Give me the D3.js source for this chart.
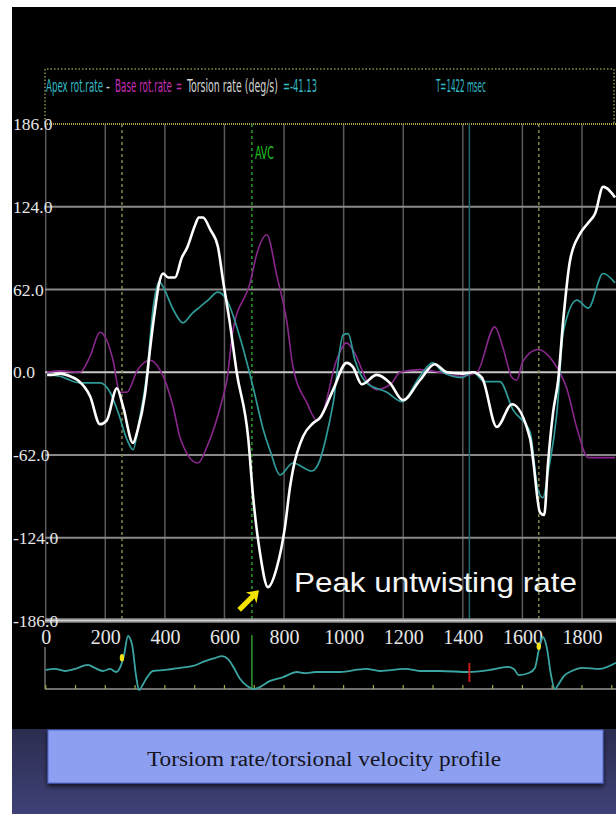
<!DOCTYPE html>
<html>
<head>
<meta charset="utf-8">
<script src="https://cdn.jsdelivr.net/npm/d3@7"></script>
<style>
  body { margin: 0; background: #fff; }
  svg { display: block; }
</style>
</head>
<body>
<div id="main"></div>
<script>
var timeTicks = [0, 200, 400, 600, 800, 1000, 1200, 1400, 1600, 1800];
var rateTicks = [186, 124, 62, 0, -62, -124, -186];
var rateTickLabels = ["186.0", "124.0", "62.0", "0.0", "-62.0", "-124.0", "-186.0"];

// [time ms, deg/s]
var torsionRate = [
  [5, -2], [20, -2], [48, -1], [82, -3], [108, -6], [149, -18], [182, -39], [205, -36],
  [239, -12], [260, -26], [293, -53], [309, -43], [333, -17], [350, 17], [367, 47],
  [381, 67], [394, 74], [411, 71], [434, 71], [457, 86], [474, 93], [501, 110],
  [514, 116], [528, 116], [552, 107], [578, 94], [595, 69], [618, 37], [641, 0],
  [680, -50], [696, -93], [719, -135], [746, -161], [776, -146], [803, -116],
  [820, -86], [830, -73], [864, -48], [898, -38], [921, -34], [965, -13], [1010, 7],
  [1031, 4], [1061, -9], [1111, -2], [1155, -8], [1199, -21], [1256, -6], [1306, 6],
  [1346, 0], [1400, -1], [1433, 0], [1464, -4], [1514, -41], [1565, -24], [1626, -50],
  [1636, -66], [1659, -105], [1673, -107], [1686, -68], [1703, -30], [1720, -6],
  [1737, 39], [1760, 84], [1794, 104], [1821, 112], [1844, 119], [1871, 139], [1911, 131]
];
var apexRate = [
  [5, -2], [48, -3], [71, -5], [115, -8], [182, -8], [216, -15], [243, -30], [272, -50],
  [293, -58], [315, -35], [340, 0], [361, 49], [381, 68], [394, 64], [428, 47],
  [461, 37], [491, 44], [518, 49], [545, 54], [578, 60], [608, 54], [652, 26],
  [696, -11], [729, -42], [755, -60], [786, -77], [830, -68], [893, -74], [920, -66],
  [942, -48], [965, -23], [998, 28], [1015, 29], [1038, 9], [1077, -8], [1145, -15],
  [1196, -22], [1256, -3], [1299, 7], [1333, 0], [1397, -4], [1433, 0], [1474, -7],
  [1524, -7], [1568, -28], [1626, -45], [1652, -88], [1669, -94], [1686, -75],
  [1716, -30], [1737, 30], [1783, 54], [1821, 48], [1871, 74], [1911, 67]
];
var baseRate = [
  [5, 0], [48, 1], [115, 0], [149, 12], [182, 30], [205, 24], [226, 9], [249, -15],
  [272, -15], [309, 2], [350, 9], [383, 2], [428, -26], [451, -49], [511, -68],
  [541, -56], [592, -21], [608, -6], [629, 32], [686, 67], [709, 89], [742, 103],
  [776, 72], [810, 37], [830, 4], [877, -23], [910, -36], [930, -30], [976, 9],
  [1010, 22], [1038, 14], [1077, -6], [1111, -13], [1162, -8], [1189, 0], [1256, 2],
  [1323, 0], [1390, -3], [1447, 0], [1507, 34], [1534, 19], [1565, -4], [1581, -6],
  [1601, 8], [1652, 17], [1703, 8], [1750, -13], [1783, -42], [1821, -64], [1911, -64]
];
// [time ms, amplitude] ECG strip
var ecg = [
  [0, 0], [31, 0.03], [65, -0.03], [98, 0.03], [142, 0.15], [165, 0.06], [192, -0.03],
  [216, 0.03], [236, -0.06], [249, 0.06], [263, 0.44], [276, 1.0], [290, 0.74],
  [303, -0.15], [313, -0.59], [327, -0.41], [343, -0.18], [360, -0.03], [400, 0],
  [451, 0.06], [495, 0.12], [535, 0.26], [568, 0.35], [592, 0.41], [612, 0.32],
  [632, 0.06], [652, -0.26], [676, -0.47], [696, -0.56], [712, -0.53], [753, -0.32],
  [797, -0.21], [843, -0.06], [870, -0.09], [907, -0.06], [988, -0.06], [1075, 0.03],
  [1122, -0.03], [1209, 0.03], [1256, -0.03], [1323, -0.03], [1420, -0.06], [1490, 0],
  [1551, 0.09], [1571, 0.03], [1588, -0.15], [1622, -0.09], [1642, 0.06], [1655, 0.59],
  [1669, 0.97], [1682, 0.65], [1696, -0.15], [1709, -0.56], [1722, -0.41],
  [1739, -0.18], [1766, -0.03], [1803, 0.06], [1857, 0.03], [1914, 0.21]
];
var ecgTicks = d3.range(0, 1901, 100);
var eventTimes = [256, 1655];
var avcTime = 692;
var cursorTime = 1422;

var W = 616, H = 814;
var svg = d3.select("#main").append("svg").attr("width", W).attr("height", H);

var x = d3.scaleLinear().domain([0, 1800]).range([45.7, 582]);
var y = d3.scaleLinear().domain([-186, 186]).range([620.5, 124]);
var yEcg = d3.scaleLinear().domain([-0.56, 1]).range([689, 636]);

var defs = svg.append("defs");
defs.append("clipPath").attr("id", "plot-clip")
  .append("rect").attr("x", 45).attr("y", 118).attr("width", 571).attr("height", 505);
var grad = defs.append("linearGradient").attr("id", "navy")
  .attr("x1", 0).attr("y1", 0).attr("x2", 0).attr("y2", 1);
grad.append("stop").attr("offset", "0%").attr("stop-color", "#2b2d50");
grad.append("stop").attr("offset", "100%").attr("stop-color", "#3f4177");
var shadow = defs.append("filter").attr("id", "shadow")
  .attr("x", "-5%").attr("y", "-20%").attr("width", "110%").attr("height", "160%");
shadow.append("feDropShadow").attr("dx", 0).attr("dy", 3).attr("stdDeviation", 2.5)
  .attr("flood-color", "#000").attr("flood-opacity", 0.7);

// backgrounds
svg.append("rect").attr("x", 12).attr("y", 7).attr("width", W - 12).attr("height", 722).attr("fill", "#000");
svg.append("rect").attr("x", 12).attr("y", 729).attr("width", W - 12).attr("height", H - 729).attr("fill", "url(#navy)");

// header box
var dotted = "#8f8f45";
svg.append("path")
  .attr("d", "M45,123 L45,69 L614,69 L614,123")
  .attr("fill", "none").attr("stroke", dotted).attr("stroke-width", 1.5)
  .attr("stroke-dasharray", "1.5,2");

var condensed = "'DejaVu Sans Condensed', 'Liberation Sans Narrow', 'Liberation Sans', sans-serif";

// squeeze a text horizontally so it spans `len` pixels
function narrowText(parent, txt, x0, y0, len, color, size) {
  var t = parent.append("text")
    .attr("font-family", condensed).attr("font-size", size)
    .attr("fill", color).text(txt);
  var natural = t.node().getComputedTextLength();
  t.attr("transform", "translate(" + x0 + "," + y0 + ") scale(" + (len / natural) + ",1)");
  return t;
}
var header = svg.append("g");
narrowText(header, "Apex rot.rate", 46, 92, 57, "#35bcc6", 18);
narrowText(header, "-", 106, 92, 4, "#cfcfcf", 18);
narrowText(header, "Base rot.rate", 115, 92, 57, "#c42fb4", 18);
narrowText(header, "=", 176, 92, 6, "#c42fb4", 18);
narrowText(header, "Torsion rate (deg/s)", 187, 92, 91, "#d6d6d6", 18);
narrowText(header, "=-41.13", 283, 92, 34, "#35bcc6", 18);
narrowText(header, "T=1422 msec", 436, 92, 50, "#35bcc6", 18);

// grid
var grid = svg.append("g");
grid.selectAll("line.v").data(timeTicks).enter().append("line")
  .attr("x1", function(d) { return x(d); }).attr("x2", function(d) { return x(d); })
  .attr("y1", y(186)).attr("y2", y(-186))
  .attr("stroke", "#5a5a5a").attr("stroke-width", 1.5);
grid.selectAll("line.h").data(rateTicks.filter(function(d) { return Math.abs(d) < 186; }))
  .enter().append("line")
  .attr("x1", 45).attr("x2", W)
  .attr("y1", function(d) { return y(d); }).attr("y2", function(d) { return y(d); })
  .attr("stroke", function(d) { return d === 0 ? "#c8c8c8" : "#8a8a8a"; })
  .attr("stroke-width", 2);

// top dotted line at 186
svg.append("line").attr("x1", 45).attr("x2", W).attr("y1", y(186)).attr("y2", y(186))
  .attr("stroke", "#a5a550").attr("stroke-width", 2).attr("stroke-dasharray", "1,1");

// event markers
eventTimes.forEach(function(t) {
  svg.append("line").attr("x1", x(t)).attr("x2", x(t)).attr("y1", y(186)).attr("y2", y(-186))
    .attr("stroke", "#86864a").attr("stroke-width", 1.5).attr("stroke-dasharray", "3,3");
});
svg.append("line").attr("x1", x(avcTime)).attr("x2", x(avcTime)).attr("y1", y(186)).attr("y2", y(-186))
  .attr("stroke", "#2f9a2f").attr("stroke-width", 1.5).attr("stroke-dasharray", "3,3");
narrowText(svg, "AVC", x(avcTime) + 3, 159, 19, "#22c322", 18);
svg.append("line").attr("x1", x(cursorTime)).attr("x2", x(cursorTime)).attr("y1", y(186)).attr("y2", y(-186))
  .attr("stroke", "#1c6a6a").attr("stroke-width", 1.5);

// bottom bar at -186
svg.append("line").attr("x1", 45).attr("x2", W).attr("y1", y(-186)).attr("y2", y(-186))
  .attr("stroke", "#8c8c8c").attr("stroke-width", 4.5);
svg.append("line").attr("x1", 45).attr("x2", W).attr("y1", y(-186)).attr("y2", y(-186))
  .attr("stroke", "#d0d0d0").attr("stroke-width", 1.5);

// curves
var line = d3.line()
  .x(function(d) { return x(d[0]); })
  .y(function(d) { return y(d[1]); })
  .curve(d3.curveMonotoneX);
var curves = svg.append("g").attr("clip-path", "url(#plot-clip)");
curves.append("path").datum(baseRate).attr("d", line)
  .attr("fill", "none").attr("stroke", "#8a278d").attr("stroke-width", 1.6);
curves.append("path").datum(apexRate).attr("d", line)
  .attr("fill", "none").attr("stroke", "#2f9b98").attr("stroke-width", 1.7);
curves.append("path").datum(torsionRate).attr("d", line)
  .attr("fill", "none").attr("stroke", "#ffffff").attr("stroke-width", 2.6)
  .attr("stroke-linejoin", "round");

// y axis labels
var yAxis = d3.axisLeft(y).tickValues(rateTicks).tickSize(0)
  .tickFormat(function(d, i) { return rateTickLabels[i]; });
svg.append("g").call(yAxis)
  .call(function(g) { g.select(".domain").remove(); })
  .attr("font-family", "'Liberation Serif', 'DejaVu Serif', serif").attr("font-size", 17.5)
  .selectAll("text")
  .attr("x", 13).attr("dy", "0.32em").attr("text-anchor", "start")
  .attr("fill", "#e6e6e6");

// x axis labels
var xAxis = d3.axisBottom(x).tickValues(timeTicks).tickSize(0).tickPadding(0)
  .tickFormat(d3.format("d"));
svg.append("g").attr("transform", "translate(0,637)").call(xAxis)
  .call(function(g) { g.select(".domain").remove(); })
  .attr("font-family", "'Liberation Serif', 'DejaVu Serif', serif").attr("font-size", 20)
  .selectAll("text")
  .attr("dy", "0.35em").attr("fill", "#e6e6e6");

// ECG strip
var ecgG = svg.append("g");
ecgG.append("line").attr("x1", 45).attr("x2", W).attr("y1", 689).attr("y2", 689)
  .attr("stroke", "#6e6e6e").attr("stroke-width", 2);
ecgG.append("line").attr("x1", 45).attr("x2", 45).attr("y1", 647).attr("y2", 689)
  .attr("stroke", "#6e6e6e").attr("stroke-width", 1.5);
ecgG.selectAll("line.tick").data(ecgTicks).enter().append("line")
  .attr("x1", function(d) { return x(d); }).attr("x2", function(d) { return x(d); })
  .attr("y1", 685).attr("y2", 689)
  .attr("stroke", "#a5a54a").attr("stroke-width", 1.2);
ecgG.append("line").attr("x1", x(avcTime)).attr("x2", x(avcTime)).attr("y1", 635).attr("y2", 689)
  .attr("stroke", "#2e9a2e").attr("stroke-width", 1.5);
var ecgLine = d3.line()
  .x(function(d) { return x(d[0]); })
  .y(function(d) { return yEcg(d[1]); })
  .curve(d3.curveMonotoneX);
ecgG.append("path").datum(ecg).attr("d", ecgLine)
  .attr("fill", "none").attr("stroke", "#3aa5a2").attr("stroke-width", 1.8);
ecgG.append("line").attr("x1", x(cursorTime)).attr("x2", x(cursorTime)).attr("y1", 663).attr("y2", 682)
  .attr("stroke", "#d81e1e").attr("stroke-width", 1.8);

function ecgAt(t) {
  var i = d3.bisector(function(d) { return d[0]; }).left(ecg, t);
  if (i <= 0) return ecg[0][1];
  var a = ecg[i - 1], b = ecg[i];
  return a[1] + (b[1] - a[1]) * (t - a[0]) / (b[0] - a[0]);
}
eventTimes.forEach(function(t) {
  ecgG.append("ellipse").attr("cx", x(t)).attr("cy", yEcg(ecgAt(t + 4)))
    .attr("rx", 2.2).attr("ry", 3.8).attr("fill", "#f2e21a");
});

// annotation: peak untwisting rate
var peak = d3.least(torsionRate, function(d) { return d[1]; });
var px = x(peak[0]), py = y(peak[1]);
var tipX = px - 9, tipY = py + 3;
var ang = Math.atan2(-20, 20);
function rot(dx, dy) {
  return [tipX + dx * Math.cos(ang) - dy * Math.sin(ang), tipY + dx * Math.sin(ang) + dy * Math.cos(ang)];
}
var arrowPts = [rot(0, 0), rot(-11, 7.5), rot(-9, 2.6), rot(-28, 2.6), rot(-28, -2.6), rot(-9, -2.6), rot(-11, -7.5)];
svg.append("polygon").attr("points", arrowPts.map(function(p) { return p.join(","); }).join(" "))
  .attr("fill", "#f4e400");
svg.append("text").attr("x", px + 26).attr("y", py + 5)
  .attr("font-family", "'Liberation Sans', Arial, sans-serif").attr("font-size", 28)
  .attr("textLength", 283).attr("lengthAdjust", "spacingAndGlyphs")
  .attr("fill", "#f5f5f5").text("Peak untwisting rate");

// caption box
svg.append("rect").attr("x", 48).attr("y", 730).attr("width", 555).attr("height", 53)
  .attr("fill", "#8d9ff0").attr("stroke", "#5266cf").attr("stroke-width", 1)
  .attr("filter", "url(#shadow)");
svg.append("text").attr("x", 324).attr("y", 766).attr("text-anchor", "middle")
  .attr("font-family", "'Liberation Serif', 'DejaVu Serif', serif").attr("font-size", 20)
  .attr("textLength", 354).attr("lengthAdjust", "spacingAndGlyphs")
  .attr("fill", "#141420").text("Torsiom rate/torsional velocity profile");
</script>
</body>
</html>
